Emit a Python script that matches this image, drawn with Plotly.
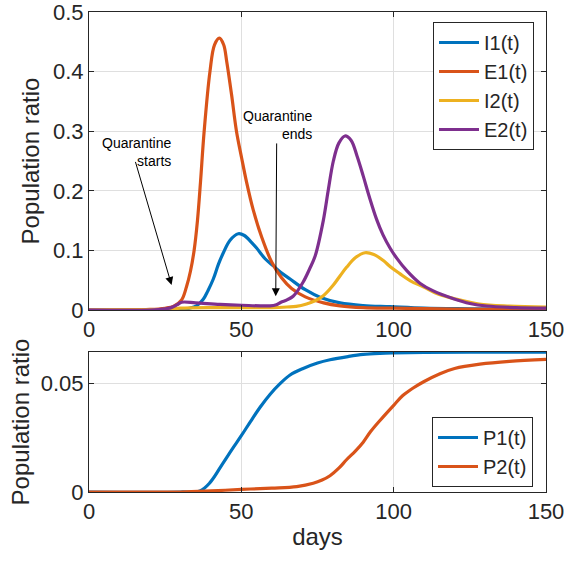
import plotly.graph_objects as go

# ---------------- data ----------------
i1_days = [0, 20, 30, 33, 35.3, 37.5, 39, 40.8, 42.5, 44.1, 46.3, 49, 51, 53.4, 55, 57.8, 60.5, 63, 66, 71, 76, 82.4, 90, 98.8, 110, 125, 150]
i1_vals = [0, 0, 0.001, 0.003, 0.007, 0.018, 0.032, 0.052, 0.077, 0.096, 0.117, 0.128, 0.125, 0.113, 0.104, 0.086, 0.074, 0.063, 0.052, 0.034, 0.021, 0.012, 0.0075, 0.0055, 0.003, 0.002, 0.001]

e1_days = [0, 20, 25, 27.7, 30.4, 32, 33.3, 34.5, 35.6, 36.6, 37.8, 39.7, 41.2, 42.8, 44.2, 45.2, 46.8, 48.4, 50.1, 51.7, 53.9, 56.7, 60, 63.2, 66.5, 71, 77, 82.4, 90, 100, 120, 150]
e1_vals = [0, 0.001, 0.003, 0.006, 0.017, 0.039, 0.065, 0.1, 0.15, 0.215, 0.3, 0.4, 0.445, 0.456, 0.445, 0.417, 0.361, 0.3, 0.255, 0.215, 0.168, 0.122, 0.08, 0.054, 0.036, 0.022, 0.012, 0.007, 0.004, 0.003, 0.0015, 0.001]

i2_days = [0, 25, 30, 40, 50, 60, 65, 68, 71.4, 74, 76.9, 80.2, 82.5, 84.6, 87.5, 90.6, 93.5, 96.6, 99, 102, 105.5, 109.7, 115, 120, 128, 138, 150]
i2_vals = [0, 0.001, 0.003, 0.004, 0.004, 0.004, 0.005, 0.006, 0.01, 0.015, 0.024, 0.042, 0.058, 0.072, 0.088, 0.096, 0.093, 0.083, 0.072, 0.061, 0.049, 0.039, 0.026, 0.019, 0.01, 0.0065, 0.005]

e2_days = [0, 20, 25, 27, 29, 30.4, 35, 43, 50, 59.4, 61.5, 63, 65, 67, 70.3, 72.5, 74.2, 76.9, 78.5, 80.2, 82, 84, 86, 88, 90, 92, 94.4, 96.5, 98.8, 101, 104.3, 108.6, 113, 119.6, 125, 130.5, 140, 150]
e2_vals = [0, 0, 0.002, 0.004, 0.009, 0.013, 0.012, 0.0095, 0.008, 0.007, 0.009, 0.013, 0.017, 0.023, 0.047, 0.07, 0.09, 0.15, 0.2, 0.25, 0.28, 0.292, 0.285, 0.258, 0.225, 0.19, 0.152, 0.126, 0.104, 0.087, 0.066, 0.045, 0.032, 0.019, 0.011, 0.0067, 0.004, 0.003]

p1_days = [0, 30, 36.4, 39.7, 44.1, 47, 50.1, 53, 56.1, 59.4, 62.7, 66, 70.3, 75, 79.1, 85, 90, 95.5, 100, 110, 125, 150]
p1_vals = [0, 0, 0.0005, 0.0043, 0.0136, 0.0198, 0.0262, 0.0325, 0.039, 0.045, 0.05, 0.054, 0.057, 0.0595, 0.061, 0.0625, 0.0635, 0.064, 0.0642, 0.0644, 0.0645, 0.0645]

p2_days = [0, 30, 40, 50.1, 60, 68.2, 73.6, 76.5, 79.1, 82, 84.6, 87.5, 90, 92.5, 95.5, 100, 103, 106.4, 110, 115.2, 120, 128.3, 138, 150]
p2_vals = [0, 0, 0.0005, 0.0012, 0.0018, 0.0025, 0.004, 0.0055, 0.0075, 0.011, 0.015, 0.019, 0.023, 0.028, 0.033, 0.040, 0.0445, 0.048, 0.051, 0.0546, 0.057, 0.059, 0.0603, 0.0612]

top_yticks = [0, 0.1, 0.2, 0.3, 0.4, 0.5]
top_yticklabels = ["0", "0.1", "0.2", "0.3", "0.4", "0.5"]
bot_yticks = [0, 0.05]
bot_yticklabels = ["0", "0.05"]
xticks = [0, 50, 100, 150]

# annotation anchors (days, value)
q_start_tip = (27.1, 0.042)
q_start_tail = (15.1, 0.251)
q_start_text = (27.6, 0.265)
q_end_tip = (61.3, 0.023)
q_end_tail = (61.6, 0.282)
q_end_text = (73.8, 0.31)

# ---------------- style ----------------
BLUE, ORANGE, YELLOW, PURPLE = "#0072BD", "#D95319", "#EDB120", "#7E2F8E"
FONT = "Liberation Sans, Arial, Helvetica, sans-serif"
TXT = "#262626"
GRID = "#DFDFDF"
LW = 3.2

fig = go.Figure()

def add(x, y, name, color, xa, ya, legend):
    fig.add_trace(go.Scatter(x=x, y=y, name=name, mode="lines",
                             line=dict(color=color, width=LW, shape="spline", smoothing=1.0),
                             xaxis=xa, yaxis=ya, legend=legend, cliponaxis=True))

add(i1_days, i1_vals, "I1(t)", BLUE, "x", "y", "legend")
add(e1_days, e1_vals, "E1(t)", ORANGE, "x", "y", "legend")
add(i2_days, i2_vals, "I2(t)", YELLOW, "x", "y", "legend")
add(e2_days, e2_vals, "E2(t)", PURPLE, "x", "y", "legend")
add(p1_days, p1_vals, "P1(t)", BLUE, "x2", "y2", "legend2")
add(p2_days, p2_vals, "P2(t)", ORANGE, "x2", "y2", "legend2")

axis_common = dict(showline=True, linecolor=TXT, linewidth=1, mirror="ticks",
                   ticks="inside", ticklen=5, tickcolor=TXT, automargin=False,
                   ticklabeloverflow="allow",
                   showgrid=True, gridcolor=GRID, gridwidth=1, zeroline=False,
                   tickfont=dict(size=22, color=TXT, family=FONT))

TOP = 12
plot_h = 492 - TOP
top_dom = [(492 - 310) / plot_h, 1.0]
bot_dom = [0.0, (492 - 352) / plot_h]

fig.update_layout(
    width=565, height=565,
    margin=dict(l=89, r=19, t=TOP, b=73, autoexpand=False),
    paper_bgcolor="white", plot_bgcolor="white",
    font=dict(family=FONT, color=TXT),
    xaxis=dict(domain=[0, 1], anchor="y", range=[0, 150], tickvals=xticks, **axis_common),
    yaxis=dict(domain=top_dom, anchor="x", range=[0, 0.5], tickvals=top_yticks,
               ticktext=top_yticklabels,
               title=dict(text="Population ratio", font=dict(size=24, color=TXT, family=FONT), standoff=6),
               **axis_common),
    xaxis2=dict(domain=[0, 1], anchor="y2", range=[0, 150], tickvals=xticks,
                title=dict(text="days", font=dict(size=24, color=TXT, family=FONT), standoff=4),
                **axis_common),
    yaxis2=dict(domain=bot_dom, anchor="x2", range=[0, 0.0646], tickvals=bot_yticks,
                ticktext=bot_yticklabels,
                title=dict(text="Population ratio", font=dict(size=24, color=TXT, family=FONT), standoff=4),
                **axis_common),
    legend=dict(x=(534 - 89) / 457, y=(492 - 22) / plot_h, xanchor="right", yanchor="top",
                bgcolor="white", bordercolor=TXT, borderwidth=1,
                font=dict(size=20, color=TXT, family=FONT), itemwidth=40,
                tracegroupgap=0),
    legend2=dict(x=(533 - 89) / 457, y=(492 - 417) / plot_h, xanchor="right", yanchor="top",
                 bgcolor="white", bordercolor=TXT, borderwidth=1,
                 font=dict(size=20, color=TXT, family=FONT), itemwidth=40,
                 tracegroupgap=0),
    showlegend=True,
)

arrow_common = dict(xref="x", yref="y", axref="x", ayref="y", showarrow=True,
                    arrowhead=2, arrowsize=1.6, arrowwidth=1, arrowcolor="black", text="")
fig.add_annotation(x=q_start_tip[0], y=q_start_tip[1], ax=q_start_tail[0], ay=q_start_tail[1], **arrow_common)
fig.add_annotation(x=q_end_tip[0], y=q_end_tip[1], ax=q_end_tail[0], ay=q_end_tail[1], **arrow_common)

text_common = dict(xref="x", yref="y", showarrow=False, xanchor="right", yanchor="middle",
                   align="right", font=dict(size=14, color="black", family=FONT))
fig.add_annotation(x=q_start_text[0], y=q_start_text[1], text="Quarantine<br>starts", **text_common)
fig.add_annotation(x=q_end_text[0], y=q_end_text[1], text="Quarantine<br>ends", **text_common)

fig.write_html("out.html", config={"displayModeBar": False},
               post_script="document.body.style.margin='0';document.body.style.padding='0';")
